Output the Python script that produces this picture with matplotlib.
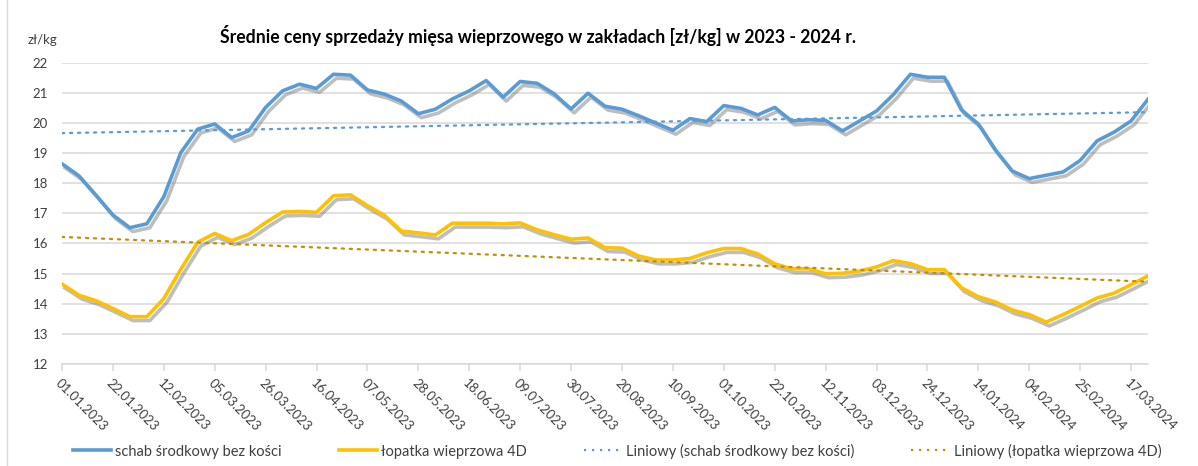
import matplotlib
matplotlib.use("Agg")
import matplotlib.pyplot as plt
import matplotlib.patheffects as pe
from matplotlib.lines import Line2D
import numpy as np
import pandas as pd

plt.rcParams['font.family'] = ['Lato', 'DejaVu Sans']

# weekly prices, 01.01.2023 - 24.03.2024
schab = [18.64, 18.24, 17.60, 16.94, 16.52, 16.65, 17.55, 19.01, 19.79, 19.96,
         19.51, 19.73, 20.51, 21.06, 21.28, 21.14, 21.61, 21.58, 21.09, 20.95,
         20.72, 20.30, 20.45, 20.79, 21.06, 21.40, 20.85, 21.37, 21.31, 20.96,
         20.46, 20.98, 20.55, 20.45, 20.23, 19.99, 19.75, 20.14, 20.04, 20.57,
         20.48, 20.26, 20.51, 20.06, 20.10, 20.08, 19.73, 20.06, 20.39, 20.94,
         21.61, 21.51, 21.51, 20.43, 19.96, 19.10, 18.40, 18.15, 18.26, 18.37,
         18.75, 19.40, 19.69, 20.06, 20.78]
lopatka = [14.65, 14.28, 14.10, 13.84, 13.57, 13.57, 14.17, 15.14, 16.04, 16.33,
           16.09, 16.30, 16.69, 17.04, 17.06, 17.03, 17.58, 17.61, 17.25, 16.93,
           16.41, 16.35, 16.28, 16.67, 16.67, 16.67, 16.65, 16.68, 16.45, 16.29,
           16.14, 16.18, 15.86, 15.84, 15.58, 15.45, 15.45, 15.50, 15.69, 15.83,
           15.83, 15.65, 15.32, 15.16, 15.16, 14.99, 15.01, 15.08, 15.22, 15.43,
           15.33, 15.13, 15.13, 14.53, 14.23, 14.06, 13.79, 13.64, 13.39, 13.64,
           13.91, 14.19, 14.35, 14.63, 14.92]
dates = pd.date_range("2023-01-01", periods=len(schab), freq="7D")
tick_labels = [d.strftime("%d.%m.%Y") for d in dates[::3]]

names = ["schab środkowy bez kości", "łopatka wieprzowa 4D"]
trend_names = ["Liniowy (schab środkowy bez kości)", "Liniowy (łopatka wieprzowa 4D)"]
colors = ["#5B9BD5", "#FFC000"]
trend_colors = ["#5B9BD5", "#BF9000"]
grid_c = "#D9D9D9"

fig = plt.figure(figsize=(11.98, 4.66), dpi=100)
ax = fig.add_axes([62/1198, 1-364/466, (1148-62)/1198, (364-62.5)/466])

x = np.arange(len(schab))
shadow = [pe.SimpleLineShadow(offset=(2.2, -2.8), shadow_color="#7f7f7f", alpha=0.5), pe.Normal()]
for i, s in enumerate([schab, lopatka]):
    ax.plot(x, s, color=colors[i], lw=2.6, solid_joinstyle="round", path_effects=shadow, zorder=3)
for i, s in enumerate([schab, lopatka]):
    k, b = np.polyfit(x, s, 1)
    ax.plot(x, k*x+b, color=trend_colors[i], lw=1.6, linestyle=(0, (1, 2.6)),
            dash_capstyle="round", zorder=4)

ax.set_xlim(0, len(schab)-1)
ax.set_ylim(12, 22)
ax.set_yticks(range(12, 23))
ax.yaxis.grid(True, color=grid_c, lw=1.1)
ax.set_axisbelow(True)
for sp in ["left", "right", "top"]:
    ax.spines[sp].set_visible(False)
ax.spines["bottom"].set_color(grid_c)
ax.spines["bottom"].set_linewidth(1.1)
ax.tick_params(axis="y", length=0, labelsize=9.5, labelcolor="#404040", pad=10)
ax.set_xticks(x[::3])
ax.set_xticklabels(tick_labels, rotation=-45, ha="left", va="top",
                   rotation_mode="anchor", fontsize=9.5, color="#404040")
ax.tick_params(axis="x", length=5, color=grid_c, width=1.1, pad=4)

fig.text(28/1198, 1-40/466, "zł/kg", fontsize=9.5, color="#404040", va="center")
fig.text(538/1198, 1-35/466, "Średnie ceny sprzedaży mięsa wieprzowego w zakładach [zł/kg] w 2023 - 2024 r.",
         fontsize=12.7, fontweight="bold", color="black", ha="center", va="center")

handles = [Line2D([], [], color=colors[0], lw=2.6),
           Line2D([], [], color=colors[1], lw=2.6),
           Line2D([], [], color=trend_colors[0], lw=1.6, linestyle=(0, (1, 2.6))),
           Line2D([], [], color=trend_colors[1], lw=1.6, linestyle=(0, (1, 2.6)))]
fig.legend(handles, names + trend_names, loc="center", bbox_to_anchor=(617/1198, 1-451/466),
           ncol=4, frameon=False, fontsize=10.5, handlelength=2.6, handletextpad=0.3,
           columnspacing=3.9, labelcolor="#404040")

fig.add_artist(Line2D([7/1198, 7/1198], [0, 1], color=grid_c, lw=1))

fig.savefig("out.png", dpi=100)
